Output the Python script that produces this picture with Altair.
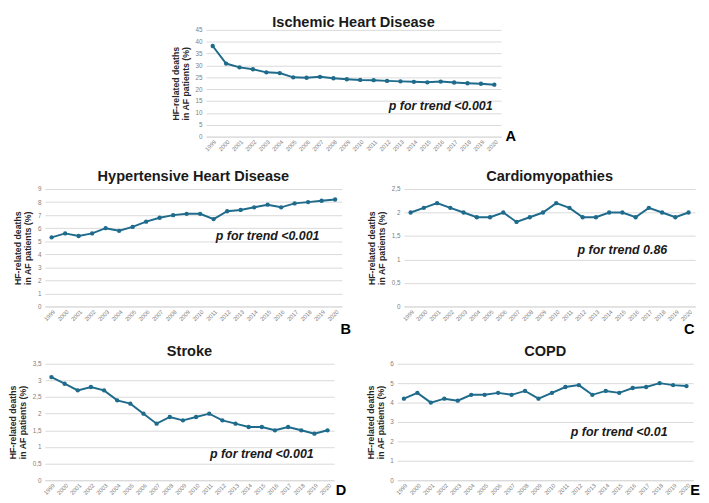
import altair as alt
import pandas as pd

years = [str(y) for y in range(1999, 2021)]

ihd = [38.2, 30.8, 29.2, 28.4, 27.1, 26.8, 25.0, 24.8, 25.2, 24.6, 24.2,
       23.9, 23.8, 23.5, 23.3, 23.1, 22.9, 23.2, 22.8, 22.5, 22.3, 21.9]
hhd = [5.3, 5.6, 5.4, 5.6, 6.0, 5.8, 6.1, 6.5, 6.8, 7.0, 7.1,
       7.1, 6.7, 7.3, 7.4, 7.6, 7.8, 7.6, 7.9, 8.0, 8.1, 8.2]
cardio = [2.0, 2.1, 2.2, 2.1, 2.0, 1.9, 1.9, 2.0, 1.8, 1.9, 2.0,
          2.2, 2.1, 1.9, 1.9, 2.0, 2.0, 1.9, 2.1, 2.0, 1.9, 2.0]
stroke = [3.1, 2.9, 2.7, 2.8, 2.7, 2.4, 2.3, 2.0, 1.7, 1.9, 1.8,
          1.9, 2.0, 1.8, 1.7, 1.6, 1.6, 1.5, 1.6, 1.5, 1.4, 1.5]
copd = [4.2, 4.5, 4.0, 4.2, 4.1, 4.4, 4.4, 4.5, 4.4, 4.6, 4.2,
        4.5, 4.8, 4.9, 4.4, 4.6, 4.5, 4.75, 4.8, 5.0, 4.9, 4.85]

titles = ["Ischemic Heart Disease", "Hypertensive Heart Disease",
          "Cardiomyopathies", "Stroke", "COPD"]
ptexts = ["p for trend <0.001", "p for trend <0.001", "p for trend 0.86",
          "p for trend <0.001", "p for trend <0.01"]
ymax = [45, 9, 2.5, 3.5, 6]
ystep = [5, 1, 0.5, 0.5, 1]
p_year = ["2016", "2015", "2015", "2015", "2015"]
p_val = [12.8, 5.4, 1.21, 0.79, 2.47]
letters = ["A", "B", "C", "D", "E"]

LINE = "#1F6B8C"
FONT = "Liberation Sans"
YTITLE = ["HF-related deaths", "in AF patients (%)"]


def panel(i, vals, w, h, lx, ly, toff=2):
    df = pd.DataFrame({"year": years, "value": vals})
    n = int(round(ymax[i] / ystep[i]))
    ticks = [round(k * ystep[i], 3) for k in range(n + 1)]
    xenc = alt.X("year:O", scale=alt.Scale(type="point", padding=0.5),
                 axis=alt.Axis(title=None, labelAngle=315, labelFontSize=6,
                               labelColor="#7f7f7f", labelPadding=2,
                               labelOverlap=False,
                               ticks=False, domainColor="#d9d9d9",
                               labelFont=FONT))
    yenc = alt.Y("value:Q",
                 scale=alt.Scale(domain=[0, ymax[i]], nice=False, zero=True),
                 axis=alt.Axis(title=YTITLE, values=ticks, ticks=False,
                               domain=False, gridColor="#d9d9d9",
                               labelOverlap=False,
                               labelFontSize=6.5, labelColor="#7f7f7f",
                               labelPadding=4, labelFont=FONT,
                               labelExpr="replace(format(datum.value, '~g'), '.', ',')",
                               titleFontSize=9, titleFontWeight="bold",
                               titleColor="#262626", titleFont=FONT,
                               titleLineHeight=10, titlePadding=5))
    line = alt.Chart(df).mark_line(
        color=LINE, strokeWidth=2,
        point=alt.OverlayMarkDef(filled=True, size=20, color=LINE)
    ).encode(x=xenc, y=yenc)
    pdf = pd.DataFrame({"year": [p_year[i]], "value": [p_val[i]],
                        "t": [ptexts[i]]})
    ptxt = alt.Chart(pdf).mark_text(
        fontSize=12.8, fontWeight="bold", fontStyle="italic", color="#1a1a1a",
        font=FONT, align="center", baseline="middle"
    ).encode(x=xenc, y=yenc, text="t:N")
    ldf = pd.DataFrame({"t": [letters[i]]})
    ltxt = alt.Chart(ldf).mark_text(
        fontSize=15, fontWeight="bold", color="#000000", font=FONT,
        align="center", baseline="middle"
    ).encode(x=alt.value(lx), y=alt.value(ly), text="t:N")
    return alt.layer(line, ptxt, ltxt).properties(
        width=w, height=h,
        title=alt.TitleParams(titles[i], fontSize=15, fontWeight="bold",
                              font=FONT, color="#1a1a1a", anchor="middle",
                              offset=toff)
    )


A = panel(0, ihd, 304, 110, 304 + 10, 110, toff=-3)
B = panel(1, hhd, 306, 121, 306 + 4, 121 + 23)
C = panel(2, cardio, 300, 121, 300 - 6, 121 + 23)
D = panel(3, stroke, 298, 120, 298 + 7, 120 + 10)
E = panel(4, copd, 305, 120, 305 + 2, 120 + 10)

spacer = alt.Chart(pd.DataFrame({"z": [0]})).mark_point(opacity=0).properties(
    width=121, height=10)

rowA = alt.hconcat(spacer, A, spacing=9)
rowB = alt.hconcat(B, C, spacing=16)
rowD = alt.hconcat(D, E, spacing=20)
lower = alt.vconcat(rowB, rowD, spacing=8)

chart = alt.vconcat(rowA, lower, spacing=18).properties(
    padding=0, background="white"
).configure_view(strokeWidth=0)

chart.save("out.html", embed_options={"renderer": "svg", "actions": False})
